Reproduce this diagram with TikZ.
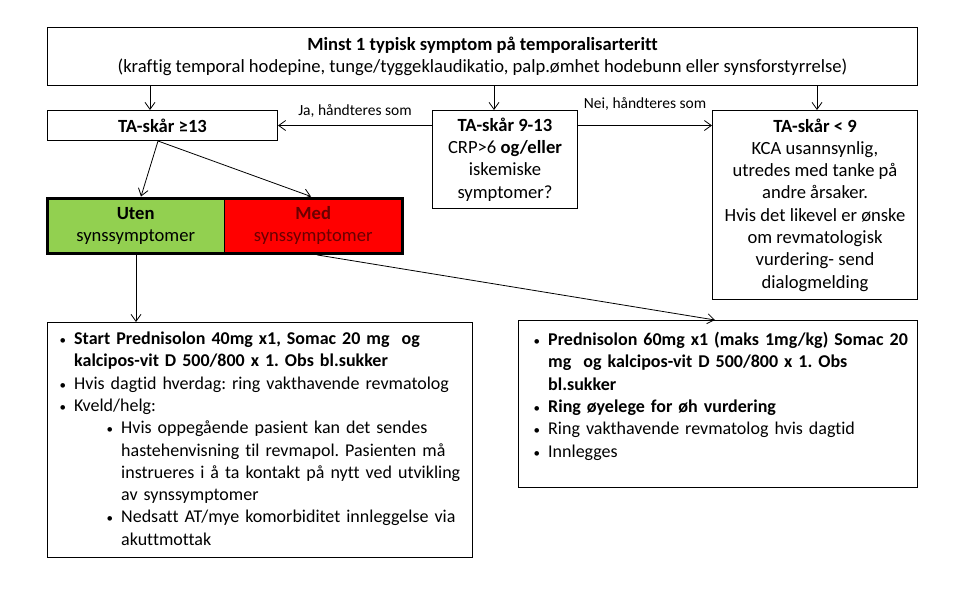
\documentclass[tikz,border=0pt]{standalone}
\usepackage{fontspec}
\setmainfont{Carlito}[Ligatures=NoCommon]
\usetikzlibrary{arrows.meta}

\definecolor{utengronn}{HTML}{92D050}
\definecolor{medrod}{HTML}{FF0000}
\definecolor{medtekst}{HTML}{6A0000}

\tikzset{
  kasse/.style={draw, line width=1pt, inner sep=0pt, align=center, anchor=north west},
  tekst/.style={inner sep=0pt, anchor=north west, text width=440pt, align=left,
    font=\fontsize{18}{22.3}\selectfont},
  pil/.style={-{Straight Barb[length=7pt,width=10pt]}, line width=0.8pt},
  etikett/.style={font=\fontsize{15.5}{17}\selectfont, inner sep=1pt},
}
\newcommand{\punkt}[2]{\par\leftskip=#1\noindent\llap{{\fontsize{13}{13}\selectfont\textbullet}\hspace{8pt}}#2\par}

\begin{document}
\frenchspacing
\begin{tikzpicture}[x=1pt, y=-1pt, font=\fontsize{18.6}{22.3}\selectfont]
\useasboundingbox (0,0) rectangle (960,598);

% Toppboks
\node[kasse, minimum width=870, minimum height=58] (topp) at (47,27)
  {\textbf{Minst 1 typisk symptom på temporalisarteritt}\\(kraftig temporal hodepine, tunge/tyggeklaudikatio, palp.ømhet hodebunn eller synsforstyrrelse)};

% TA-skår
\node[kasse, minimum width=230, minimum height=30] (ta13) at (47,110) {\textbf{TA-skår ≥13}};
\node[kasse, minimum width=145, minimum height=98] (ta913) at (432,110)
  {\textbf{TA-skår 9-13}\\CRP>6 \textbf{og/eller}\\iskemiske\\symptomer?};
\node[kasse, minimum width=205, minimum height=189] (ta9) at (712,110)
  {\textbf{TA-skår < 9}\\KCA usannsynlig,\\utredes med tanke på\\andre årsaker.\\Hvis det likevel er ønske\\om revmatologisk\\vurdering- send\\dialogmelding};

% Uten / Med
\node[fill=utengronn, inner sep=0pt, anchor=north west, minimum width=177, minimum height=55, align=center] (uten) at (47,198)
  {\textbf{Uten}\\synssymptomer};
\node[fill=medrod, text=medtekst, inner sep=0pt, anchor=north west, minimum width=178, minimum height=55, align=center] (med) at (224,198)
  {\textbf{Med}\\synssymptomer};
\draw[line width=3pt] (uten.north west) rectangle (med.south east);
\draw (uten.north east) -- (uten.south east);

% Tiltak
\node[kasse, minimum width=425, minimum height=235] (venstre) at (47,322) {};
\node[tekst] (venstre-tekst) at (venstre.north west) {%
  \punkt{27pt}{\textbf{Start Prednisolon 40mg x1, Somac 20 mg\ \ og\\kalcipos-vit D 500/800 x 1. Obs bl.sukker}}
  \punkt{27pt}{Hvis dagtid hverdag: ring vakthavende revmatolog}
  \punkt{27pt}{Kveld/helg:}
  \punkt{74pt}{Hvis oppegående pasient kan det sendes\\hastehenvisning til revmapol. Pasienten må\\instrueres i å ta kontakt på nytt ved utvikling\\av synssymptomer}
  \punkt{74pt}{Nedsatt AT/mye komorbiditet innleggelse via\\akuttmottak}};

\node[kasse, minimum width=399, minimum height=167] (hoyre) at (518,320) {};
\node[tekst] (hoyre-tekst) at ([yshift=-3]hoyre.north west) {%
  \punkt{30pt}{\textbf{Prednisolon 60mg x1 (maks 1mg/kg) Somac 20\\mg\ \ og kalcipos-vit D 500/800 x 1. Obs\\bl.sukker}}
  \punkt{30pt}{\textbf{Ring øyelege for øh vurdering}}
  \punkt{30pt}{Ring vakthavende revmatolog hvis dagtid}
  \punkt{30pt}{Innlegges}};

% Piler
\coordinate (x1) at (150,0);
\coordinate (x2) at (494,0);
\coordinate (x3) at (817,0);
\draw[pil] (topp.south -| x1) -- (ta13.north -| x1);
\draw[pil] (topp.south -| x2) -- (ta913.north -| x2);
\draw[pil] (topp.south -| x3) -- (ta9.north -| x3);

\draw[pil] (ta913.west |- ta13.east) -- (ta13.east)
  node[etikett, midway, above=7pt] {Ja, håndteres som};
\draw[pil] (ta913.east |- ta13.east) -- (ta9.west |- ta13.east)
  node[etikett, midway, above=14pt] {Nei, håndteres som};

\coordinate (s1) at (158,0);
\coordinate (e1) at (141,0);
\coordinate (e2) at (311,0);
\draw[pil] (ta13.south -| s1) -- ([yshift=1.5]uten.north -| e1);
\draw[pil] (ta13.south -| s1) -- ([yshift=1.5]med.north -| e2);

\coordinate (u1) at (136,0);
\coordinate (m1) at (317,0);
\coordinate (h1) at (715,0);
\draw[pil] ([yshift=-1.5]uten.south -| u1) -- (venstre.north -| u1);
\draw[pil] ([yshift=-1.5]med.south -| m1) -- (hoyre.north -| h1);
\end{tikzpicture}
\end{document}
